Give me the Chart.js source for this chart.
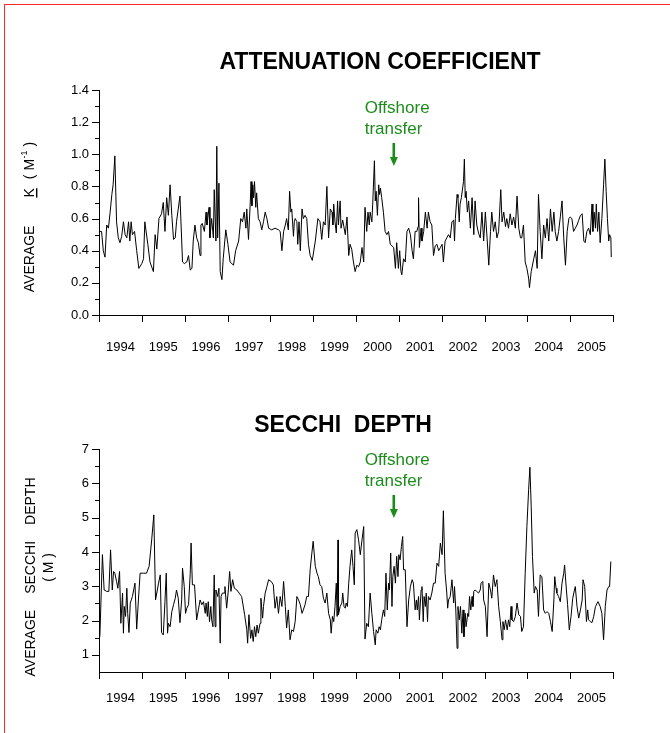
<!DOCTYPE html>
<html>
<head>
<meta charset="utf-8">
<script src="https://cdn.jsdelivr.net/npm/chart.js@4.4.0/dist/chart.umd.min.js"></script>
<style>
  html, body { margin: 0; padding: 0; background: #fff; }
  body { width: 670px; height: 733px; position: relative; overflow: hidden; }
  #frame { position: absolute; left: 4px; top: 4px; width: 700px; height: 760px;
           border-top: 1px solid #ff2a2a; border-left: 1px solid #ff2a2a; }
  canvas { position: absolute; left: 0; }
  #kChart { top: 0; }
  #secchiChart { top: 366px; }
</style>
</head>
<body>
<div id="frame"></div>
<canvas id="kChart" width="670" height="366"></canvas>
<canvas id="secchiChart" width="670" height="367"></canvas>
<script>
// ---- Attenuation coefficient K (1/m), sampling dates as decimal years ----
const kYears = [
  1994.00,1994.06,1994.10,1994.14,1994.18,1994.22,1994.26,1994.30,1994.33,1994.37,
  1994.41,1994.45,1994.49,1994.53,1994.57,1994.61,1994.65,1994.69,1994.72,1994.75,
  1994.78,1994.83,1994.88,1994.93,1995.00,1995.04,1995.07,1995.14,1995.19,1995.27,
  1995.31,1995.35,1995.40,1995.46,1995.50,1995.54,1995.58,1995.62,1995.66,1995.70,
  1995.74,1995.78,1995.81,1995.85,1995.89,1995.95,1995.99,1996.05,1996.09,1996.13,
  1996.17,1996.20,1996.24,1996.28,1996.32,1996.36,1996.38,1996.41,1996.46,1996.50,
  1996.52,1996.57,1996.59,1996.63,1996.67,1996.69,1996.73,1996.75,1996.77,1996.80,
  1996.83,1996.87,1996.90,1996.96,1997.01,1997.06,1997.14,1997.19,1997.26,1997.31,
  1997.35,1997.39,1997.43,1997.45,1997.49,1997.53,1997.55,1997.57,1997.59,1997.61,
  1997.63,1997.66,1997.68,1997.72,1997.76,1997.80,1997.84,1997.88,1997.92,1997.96,
  1998.03,1998.11,1998.19,1998.23,1998.27,1998.31,1998.35,1998.38,1998.42,1998.45,
  1998.48,1998.50,1998.54,1998.56,1998.58,1998.62,1998.64,1998.67,1998.70,1998.74,
  1998.77,1998.81,1998.85,1998.89,1998.93,1998.98,1999.05,1999.11,1999.16,1999.20,
  1999.24,1999.28,1999.32,1999.36,1999.40,1999.44,1999.46,1999.48,1999.51,1999.54,
  1999.57,1999.59,1999.63,1999.65,1999.69,1999.71,1999.75,1999.79,1999.83,1999.86,
  1999.90,1999.94,
  1999.98,2000.02,2000.06,2000.10,2000.14,2000.18,2000.21,2000.25,2000.28,2000.31,
  2000.33,2000.37,2000.39,2000.43,2000.45,2000.47,2000.50,2000.53,2000.55,2000.57,
  2000.60,2000.64,2000.68,2000.72,2000.76,2000.80,2000.84,2000.88,2000.92,2000.95,
  2000.99,2001.02,2001.05,2001.07,2001.11,2001.15,2001.19,2001.23,2001.27,2001.31,
  2001.34,2001.38,2001.42,2001.45,2001.46,2001.48,2001.52,2001.54,2001.58,2001.62,
  2001.66,2001.69,2001.73,2001.77,2001.81,2001.85,2001.89,2001.93,2001.97,2002.01,
  2002.04,2002.08,2002.12,2002.16,2002.20,2002.24,2002.28,2002.30,2002.32,2002.36,
  2002.38,2002.41,2002.43,2002.46,2002.49,2002.51,2002.53,2002.55,2002.57,2002.60,
  2002.63,2002.67,2002.71,2002.75,2002.78,2002.82,2002.86,2002.90,2002.94,2002.98,
  2003.02,2003.06,2003.10,2003.14,2003.17,2003.21,2003.25,2003.29,2003.33,2003.38,
  2003.41,2003.45,2003.49,2003.52,2003.56,2003.60,2003.64,2003.68,2003.72,2003.76,
  2003.80,2003.84,2003.87,2003.91,2003.95,2003.99,2004.03,2004.05,2004.09,2004.15,
  2004.19,2004.23,2004.26,2004.30,2004.34,2004.38,2004.42,2004.46,2004.50,2004.54,
  2004.58,2004.62,2004.65,2004.69,2004.73,2004.77,2004.81,2004.85,2004.89,2004.93,
  2004.97,2005.00,2005.04,2005.08,2005.12,2005.16,2005.20,2005.24,2005.28,2005.32,
  2005.35,2005.39,2005.43,2005.47,2005.51,2005.53,2005.56,2005.59,2005.61,2005.64,
  2005.67,2005.70,2005.74,2005.78,2005.81,2005.84,2005.87,2005.90,2005.92,2005.95,
  2005.96
];
const kValues = [
  0.52,0.52,0.40,0.36,0.56,0.54,0.64,0.75,0.81,0.99,
  0.58,0.48,0.45,0.49,0.58,0.50,0.48,0.58,0.46,0.58,
  0.50,0.52,0.40,0.29,0.32,0.35,0.58,0.44,0.33,0.27,
  0.50,0.41,0.60,0.63,0.70,0.52,0.73,0.62,0.81,0.62,
  0.47,0.48,0.58,0.66,0.74,0.33,0.32,0.33,0.37,0.28,
  0.29,0.46,0.56,0.48,0.45,0.37,0.56,0.57,0.52,0.64,
  0.56,0.67,0.48,0.60,0.48,0.78,0.46,1.05,0.48,0.82,
  0.27,0.22,0.35,0.53,0.44,0.33,0.31,0.40,0.46,0.60,
  0.58,0.64,0.54,0.66,0.47,0.69,0.83,0.68,0.81,0.73,
  0.83,0.67,0.76,0.60,0.58,0.53,0.58,0.64,0.60,0.54,
  0.53,0.54,0.53,0.52,0.40,0.52,0.56,0.60,0.53,0.77,
  0.64,0.66,0.49,0.58,0.60,0.58,0.44,0.58,0.40,0.66,
  0.60,0.62,0.60,0.44,0.37,0.34,0.46,0.60,0.58,0.47,
  0.58,0.56,0.80,0.48,0.66,0.64,0.56,0.69,0.58,0.51,
  0.71,0.56,0.71,0.54,0.59,0.56,0.50,0.61,0.37,0.44,
  0.41,0.33,
  0.27,0.31,0.30,0.33,0.42,0.33,0.67,0.52,0.64,0.56,
  0.64,0.58,0.69,0.96,0.71,0.77,0.62,0.81,0.75,0.79,
  0.73,0.64,0.52,0.50,0.52,0.44,0.43,0.42,0.29,0.45,
  0.29,0.40,0.27,0.25,0.35,0.33,0.52,0.54,0.50,0.40,
  0.35,0.52,0.52,0.55,0.73,0.42,0.54,0.46,0.52,0.64,
  0.54,0.64,0.58,0.56,0.37,0.43,0.44,0.40,0.42,0.44,
  0.33,0.46,0.48,0.50,0.48,0.58,0.59,0.46,0.60,0.75,
  0.73,0.58,0.69,0.73,0.79,0.83,0.97,0.73,0.77,0.64,
  0.71,0.54,0.73,0.50,0.71,0.56,0.51,0.48,0.64,0.46,
  0.64,0.48,0.31,0.52,0.64,0.52,0.58,0.48,0.52,0.78,
  0.58,0.64,0.55,0.60,0.54,0.63,0.56,0.61,0.54,0.74,
  0.54,0.48,0.48,0.56,0.33,0.29,0.23,0.17,0.27,0.35,
  0.40,0.29,0.75,0.52,0.35,0.56,0.48,0.60,0.46,0.66,
  0.52,0.64,0.52,0.46,0.52,0.61,0.71,0.48,0.31,0.52,
  0.60,0.61,0.60,0.52,0.54,0.56,0.59,0.62,0.63,0.46,
  0.45,0.52,0.54,0.50,0.69,0.52,0.64,0.54,0.69,0.52,
  0.64,0.45,0.60,0.81,0.97,0.77,0.60,0.46,0.50,0.48,
  0.36
];

// ---- Secchi depth (m), sampling dates as decimal years ----
const secchiYears = [
  1994.02,1994.08,1994.12,1994.18,1994.23,1994.27,1994.31,1994.34,1994.37,1994.41,
  1994.44,1994.48,1994.51,1994.55,1994.57,1994.59,1994.62,1994.65,1994.67,1994.70,
  1994.73,1994.78,1994.84,1994.88,1994.92,1994.96,1995.04,1995.11,1995.17,1995.23,
  1995.28,1995.32,1995.39,1995.43,1995.46,1995.50,1995.54,1995.57,1995.60,1995.62,
  1995.66,1995.70,1995.74,1995.78,1995.81,1995.85,1995.89,1995.93,1995.95,1995.99,
  1996.02,1996.05,1996.09,1996.13,1996.15,1996.18,1996.23,1996.28,1996.32,1996.36,
  1996.40,1996.44,1996.48,1996.50,1996.53,1996.55,1996.58,1996.61,1996.63,1996.66,
  1996.69,1996.71,1996.73,1996.77,1996.80,1996.83,1996.85,1996.88,1996.92,1996.94,
  1996.98,1997.02,1997.05,1997.08,1997.12,1997.16,1997.22,1997.27,1997.33,1997.40,
  1997.45,1997.47,1997.50,1997.54,1997.57,1997.60,1997.63,1997.66,1997.69,1997.72,
  1997.76,1997.78,1997.82,1997.84,1997.88,1997.92,1997.96,1998.02,1998.07,1998.11,
  1998.15,1998.19,1998.23,1998.27,1998.31,1998.35,1998.38,1998.42,1998.46,1998.50,
  1998.54,1998.58,1998.62,1998.66,1998.70,1998.74,1998.77,1998.81,1998.85,1998.89,
  1998.93,1998.97,1999.00,1999.05,1999.09,1999.12,1999.16,1999.20,1999.24,1999.28,
  1999.32,1999.36,1999.40,1999.42,1999.45,1999.48,1999.51,1999.54,1999.56,1999.58,
  1999.59,1999.63,1999.67,1999.69,1999.72,1999.75,1999.77,1999.80,1999.83,1999.86,
  1999.90,1999.93,1999.96,
  1999.98,2000.02,2000.06,2000.10,2000.14,2000.18,2000.21,2000.25,2000.29,2000.33,
  2000.37,2000.41,2000.45,2000.47,2000.51,2000.54,2000.57,2000.60,2000.64,2000.67,
  2000.70,2000.73,2000.76,2000.78,2000.81,2000.84,2000.86,2000.89,2000.92,2000.95,
  2000.98,2001.00,2001.03,2001.06,2001.09,2001.11,2001.15,2001.19,2001.23,2001.27,
  2001.31,2001.34,2001.38,2001.41,2001.43,2001.46,2001.48,2001.52,2001.54,2001.57,
  2001.59,2001.62,2001.64,2001.67,2001.69,2001.73,2001.77,2001.81,2001.85,2001.89,
  2001.93,2001.97,2002.01,2002.04,2002.08,2002.12,2002.14,2002.16,2002.20,2002.24,
  2002.28,2002.30,2002.33,2002.36,2002.38,2002.41,2002.44,2002.47,2002.50,2002.52,
  2002.55,2002.57,2002.61,2002.63,2002.65,2002.68,2002.71,2002.73,2002.75,2002.78,
  2002.82,2002.86,2002.90,2002.92,2002.96,2002.98,2003.02,2003.06,2003.10,2003.14,
  2003.17,2003.21,2003.25,2003.29,2003.33,2003.37,2003.41,2003.43,2003.46,2003.49,
  2003.53,2003.56,2003.59,2003.62,2003.64,2003.68,2003.72,2003.76,2003.80,2003.84,
  2003.87,2003.91,2003.95,2003.99,2004.03,2004.06,2004.09,2004.12,2004.16,2004.19,
  2004.23,2004.26,2004.30,2004.34,2004.38,2004.42,2004.46,2004.50,2004.54,2004.58,
  2004.62,2004.64,2004.67,2004.69,2004.73,2004.77,2004.81,2004.85,2004.87,2004.90,
  2004.94,2004.98,2005.02,2005.06,2005.10,2005.12,2005.16,2005.20,2005.24,2005.28,
  2005.30,2005.34,2005.38,2005.41,2005.43,2005.47,2005.51,2005.55,2005.59,2005.65,
  2005.70,2005.74,2005.78,2005.82,2005.86,2005.90,2005.92,2005.95
];
const secchiValues = [
  1.53,3.92,2.89,2.85,2.85,4.06,2.89,3.43,3.38,3.14,
  2.94,3.43,1.92,2.80,1.63,2.41,2.12,2.94,2.21,1.65,
  2.51,2.70,3.09,1.75,2.60,3.38,3.38,3.38,3.58,4.35,
  5.08,2.60,3.09,3.33,1.65,1.58,2.55,3.38,1.63,1.92,
  1.82,2.26,2.46,2.65,2.89,2.65,1.94,2.60,3.53,2.99,
  2.21,2.36,2.46,3.38,4.26,3.04,3.04,2.02,2.31,2.60,
  2.46,2.55,2.21,2.51,2.12,2.55,1.97,2.41,2.02,1.82,
  3.33,1.82,2.89,2.70,2.94,1.34,2.70,2.80,2.80,2.99,
  2.36,2.89,3.43,2.85,3.19,2.94,2.89,2.80,2.70,2.17,
  1.73,1.34,2.17,1.48,1.73,1.39,1.82,1.53,1.87,1.63,
  1.92,2.65,2.07,2.41,2.80,2.99,3.19,3.14,3.04,2.36,
  2.70,2.21,2.70,2.41,3.14,2.41,1.78,2.31,1.44,1.73,
  1.68,1.97,2.70,2.60,2.46,2.21,2.31,2.46,2.70,2.70,
  3.48,3.97,4.31,3.58,3.38,3.28,3.04,2.99,2.65,2.51,
  2.80,2.21,2.02,1.63,2.12,1.97,2.41,3.09,2.12,4.35,
  2.17,2.41,2.51,2.80,2.41,2.36,2.51,2.41,3.09,3.58,
  4.06,3.58,3.04,
  4.55,4.65,4.35,3.92,4.35,4.74,1.46,1.92,1.82,2.80,
  2.21,1.68,1.29,1.73,1.63,1.82,1.73,2.02,2.31,2.12,
  3.38,2.31,3.09,2.89,3.97,2.41,3.28,3.58,3.09,3.87,
  3.28,3.92,3.77,4.16,4.45,3.48,3.48,1.82,2.60,2.99,
  3.19,3.09,2.31,2.60,2.31,2.70,2.02,2.89,2.99,1.97,
  2.70,2.41,2.80,1.97,2.70,2.60,2.80,3.09,3.09,3.67,
  3.58,4.26,3.92,5.20,3.38,2.80,2.36,2.60,2.70,3.19,
  2.51,2.99,2.31,1.19,2.41,2.02,2.41,1.63,2.31,1.53,
  2.21,1.82,2.21,2.12,2.70,2.31,2.70,2.41,2.85,2.89,
  2.85,2.80,2.89,3.09,3.14,2.60,2.41,1.53,3.09,2.89,
  2.65,3.33,2.99,3.19,2.41,1.97,1.44,1.97,1.73,2.02,
  1.73,2.02,1.82,2.41,2.02,1.97,2.12,2.51,2.17,2.12,
  1.68,1.82,3.38,4.74,5.81,6.47,5.33,3.87,2.80,2.99,
  2.89,2.12,3.33,3.28,2.31,2.21,2.26,2.21,1.97,1.68,
  2.60,3.28,2.94,2.80,2.70,2.55,3.09,3.38,3.62,3.09,
  2.46,1.73,2.12,2.65,2.89,2.99,2.41,2.07,2.31,2.60,
  3.19,2.99,1.97,2.31,2.02,1.97,1.94,2.12,2.41,2.55,
  2.41,2.21,1.44,2.41,2.89,2.99,2.99,3.72
];

// ---- axes ----
const yearLabels = ['1994','1995','1996','1997','1998','1999','2000','2001','2002','2003','2004','2005'];
const yearBounds = [1994,1995,1996,1997,1998,1999,2000,2001,2002,2003,2004,2005,2006];
const kTickLabels = ['0.0','0.2','0.4','0.6','0.8','1.0','1.2','1.4'];
const kMinorTicks = [0.1,0.3,0.5,0.7,0.9,1.1,1.3];
const secchiTickLabels = ['1','2','3','4','5','6','7'];
const secchiMinorTicks = [1.5,2.5,3.5,4.5,5.5,6.5];
const transferYear = 2000.88;

const FONT = "'Liberation Sans', Arial, Helvetica, sans-serif";
const GREEN = '#1c8c1c';
Chart.defaults.font.family = FONT;
Chart.defaults.color = '#000';

// Writes runs of text along a vertical line, reading bottom to top, centred on (cx, cy).
function verticalRuns(ctx, cx, cy, runs) {
  ctx.save();
  let total = 0;
  runs.forEach(r => { ctx.font = r.font; total += (r.gap || 0) + ctx.measureText(r.text).width; });
  ctx.translate(cx, cy + total / 2);
  ctx.rotate(-Math.PI / 2);
  ctx.textAlign = 'left';
  ctx.textBaseline = 'middle';
  ctx.fillStyle = '#000';
  let x = 0;
  const spots = {};
  runs.forEach(r => {
    ctx.font = r.font;
    x += r.gap || 0;
    const w = ctx.measureText(r.text).width;
    ctx.fillText(r.text, x, r.dy || 0);
    if (r.underline) ctx.fillRect(x, 6, w, 1.4);
    if (r.key) spots[r.key] = cy + total / 2 - (x + w / 2);
    x += w;
  });
  ctx.restore();
  return spots;
}

const panelDecor = {
  id: 'panelDecor',
  afterDraw(chart, args, o) {
    const ctx = chart.ctx, area = chart.chartArea;
    const xs = chart.scales.x, ys = chart.scales.y;
    ctx.save();
    // tick marks: outward, major longer than minor
    ctx.strokeStyle = '#000';
    ctx.lineWidth = 1;
    ctx.beginPath();
    yearBounds.forEach(v => {
      const p = Math.round(xs.getPixelForValue(v)) + 0.5;
      ctx.moveTo(p, area.bottom); ctx.lineTo(p, area.bottom + 7);
    });
    o.yMajor.forEach(v => {
      const p = Math.round(ys.getPixelForValue(v)) + 0.5;
      ctx.moveTo(area.left, p); ctx.lineTo(area.left - 7, p);
    });
    o.yMinor.forEach(v => {
      const p = Math.round(ys.getPixelForValue(v)) + 0.5;
      ctx.moveTo(area.left, p); ctx.lineTo(area.left - 4, p);
    });
    ctx.stroke();

    // panel title
    ctx.fillStyle = '#000';
    ctx.font = 'bold 23px ' + FONT;
    ctx.textAlign = 'center';
    ctx.textBaseline = 'middle';
    ctx.fillText(o.title, o.titleX, o.titleY);

    // "Offshore transfer" note with arrow
    const ax = xs.getPixelForValue(transferYear);
    ctx.fillStyle = GREEN;
    ctx.font = '17px ' + FONT;
    ctx.textAlign = 'left';
    ctx.fillText('Offshore', ax - 29, o.noteY);
    ctx.fillText('transfer', ax - 29, o.noteY + 21);
    const top = o.noteY + 35, tip = o.noteY + 58;
    ctx.fillRect(ax - 1.2, top, 2.6, tip - top - 8);
    ctx.beginPath();
    ctx.moveTo(ax - 3.8, tip - 9);
    ctx.lineTo(ax + 4.2, tip - 9);
    ctx.lineTo(ax + 0.2, tip);
    ctx.closePath();
    ctx.fill();

    // y axis title
    o.yTitle(ctx);
    ctx.restore();
  }
};

function buildPanel(canvasId, years, values, cfg) {
  return new Chart(document.getElementById(canvasId), {
    type: 'line',
    data: {
      datasets: [{
        data: years.map((x, i) => ({ x, y: values[i] })),
        borderColor: '#000',
        borderWidth: 1,
        pointRadius: 0,
        tension: 0,
        fill: false
      }]
    },
    options: {
      responsive: false,
      animation: false,
      events: [],
      layout: { padding: cfg.padding },
      plugins: { legend: { display: false }, tooltip: { enabled: false }, title: { display: false },
                 panelDecor: cfg.decor },
      scales: {
        x: {
          type: 'linear', min: 1994, max: 2006,
          afterBuildTicks: s => { s.ticks = yearLabels.map(l => ({ value: Number(l) + 0.5 })); },
          afterFit: s => { s.height = 40; },
          grid: { display: false, drawTicks: false },
          border: { display: true, color: '#000', width: 1 },
          ticks: { autoSkip: false, maxRotation: 0, padding: cfg.xLabelPad,
                   font: { size: 13 }, color: '#000',
                   callback: (v, i) => yearLabels[i] }
        },
        y: {
          type: 'linear', min: cfg.yMin, max: cfg.yMax,
          afterBuildTicks: s => { s.ticks = cfg.yLabels.map(l => ({ value: Number(l) })); },
          afterFit: s => { s.width = 40; },
          grid: { display: false, drawTicks: false },
          border: { display: true, color: '#000', width: 1 },
          ticks: { padding: 10, font: { size: 13 }, color: '#000',
                   callback: (v, i) => cfg.yLabels[i] }
        }
      }
    },
    plugins: [panelDecor]
  });
}

buildPanel('kChart', kYears, kValues, {
  padding: { left: 59, right: 57, top: 90, bottom: 11 },
  yMin: 0, yMax: 1.4, yLabels: kTickLabels, xLabelPad: 25,
  decor: {
    yMajor: kTickLabels.map(Number), yMinor: kMinorTicks,
    title: 'ATTENUATION COEFFICIENT', titleX: 380, titleY: 63,
    noteY: 108,
    yTitle: ctx => {
      const f = '14px ' + FONT;
      verticalRuns(ctx, 30, 217, [
        { text: 'AVERAGE', font: f },
        { text: 'K', font: f, gap: 28, underline: true },
        { text: '(', font: f, gap: 9 },
        { text: 'M', font: f, gap: 4 },
        { text: '-1', font: '9px ' + FONT, gap: 0.5, dy: -5 },
        { text: ')', font: f, gap: 4 }
      ]);
    }
  }
});

buildPanel('secchiChart', secchiYears, secchiValues, {
  padding: { left: 59, right: 57, top: 83, bottom: 21 },
  yMin: 0.5, yMax: 7, yLabels: secchiTickLabels, xLabelPad: 19,
  decor: {
    yMajor: secchiTickLabels.map(Number), yMinor: secchiMinorTicks,
    title: 'SECCHI  DEPTH', titleX: 343, titleY: 60,
    noteY: 94,
    yTitle: ctx => {
      const f = '14px ' + FONT;
      const spots = verticalRuns(ctx, 31, 211, [
        { text: 'AVERAGE', font: f },
        { text: 'SECCHI', font: f, gap: 16, key: 'mid' },
        { text: 'DEPTH', font: f, gap: 16 }
      ]);
      verticalRuns(ctx, 49, spots.mid, [{ text: '( M )', font: f }]);
    }
  }
});
</script>
</body>
</html>
